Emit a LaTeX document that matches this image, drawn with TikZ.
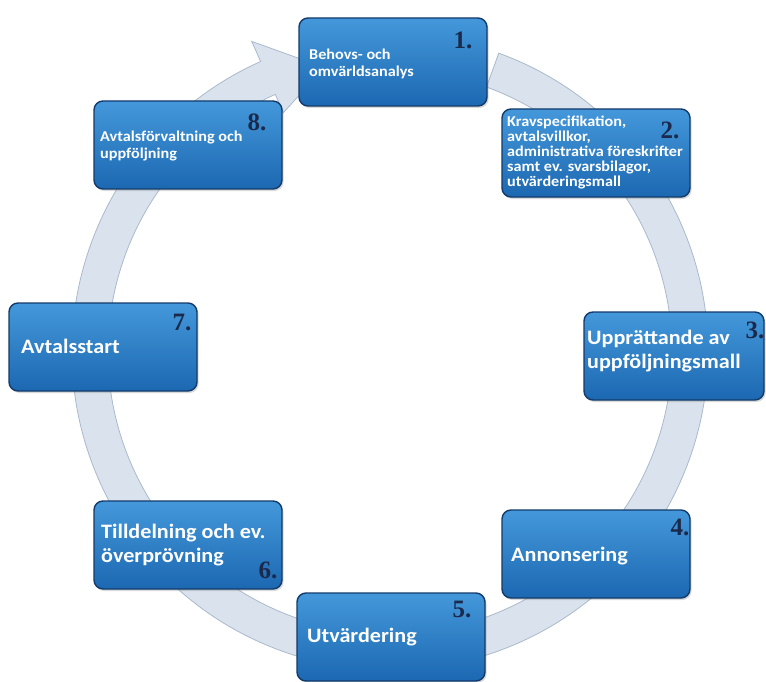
\documentclass[tikz,border=0pt]{standalone}
\usepackage{fontspec}
\newfontfamily\boxfont[FakeStretch=1.08]{Carlito}
\newfontfamily\numfont{Liberation Serif}
\usetikzlibrary{shadows}

\definecolor{boxtop}{HTML}{4498DA}
\definecolor{boxbot}{HTML}{1C68B2}
\definecolor{boxline}{HTML}{123A6A}
\definecolor{numblue}{HTML}{1B2A4C}
\definecolor{ringfill}{HTML}{DAE3ED}
\definecolor{ringline}{HTML}{A9B9CB}

\tikzset{
  phase/.style={draw=boxline,line width=1.4pt,rounded corners=9pt,
    top color=boxtop,bottom color=boxbot,minimum width=188pt,minimum height=88pt,
    drop shadow={opacity=0.3,shadow xshift=1.5pt,shadow yshift=-2pt}},
  small/.style={anchor=west,align=left,text=white,inner sep=0pt,
    font=\boxfont\bfseries\fontsize{15}{17}\selectfont},
  big/.style={anchor=west,align=left,text=white,inner sep=0pt,
    font=\boxfont\bfseries\fontsize{20.5}{24}\selectfont},
  num/.style={text=numblue,inner sep=0pt,font=\numfont\bfseries\fontsize{25}{25}\selectfont}
}

\begin{document}
\begin{tikzpicture}[x=1pt,y=1pt]
\useasboundingbox (0,0) rectangle (766,-682);

% ring with arrow head
\begin{scope}[shift={(390,-352)}]
\filldraw[fill=ringfill,draw=ringline,line width=0.8pt]
  (70:318) arc[start angle=70,end angle=-246,radius=318]
  -- (-246:340) -- (-257:292) -- (-246:262) -- (-246:282)
  arc[start angle=-246,end angle=70,radius=282] -- cycle;
\end{scope}

% boxes
\node[phase] (b1) at (393,-62) {};
\node[phase] (b2) at (596,-153) {};
\node[phase,minimum width=180pt] (b3) at (674,-356) {};
\node[phase] (b4) at (596,-554) {};
\node[phase] (b5) at (391,-637) {};
\node[phase] (b6) at (188,-545) {};
\node[phase] (b7) at (103,-347) {};
\node[phase] (b8) at (188,-145) {};

% texts
\node[small] (t1) at (309,-64) {Behovs- och\\omvärldsanalys};
\node[small,font=\boxfont\bfseries\fontsize{15}{15}\selectfont] (t2) at (507,-152) {Kravspecifikation,\\avtalsvillkor,\\administrativa föreskrifter\\samt ev. svarsbilagor,\\utvärderingsmall};
\node[big] (t3) at (587,-351) {Upprättande av\\uppföljningsmall};
\node[big] (t4) at (511,-556) {Annonsering};
\node[big] (t5) at (307,-637) {Utvärdering};
\node[big] (t6) at (101,-545) {Tilldelning och ev.\\överprövning};
\node[big] (t7) at (21,-346) {Avtalsstart};
\node[small] (t8) at (100,-146) {Avtalsförvaltning och\\uppföljning};

% numbers
\node[num] (n1) at (463,-40) {1.};
\node[num] (n2) at (670,-130) {2.};
\node[num] (n3) at (755,-330) {3.};
\node[num] (n4) at (680,-527) {4.};
\node[num] (n5) at (462,-609) {5.};
\node[num] (n6) at (268,-570) {6.};
\node[num] (n7) at (182,-322) {7.};
\node[num] (n8) at (257,-122) {8.};
\end{tikzpicture}
\end{document}
